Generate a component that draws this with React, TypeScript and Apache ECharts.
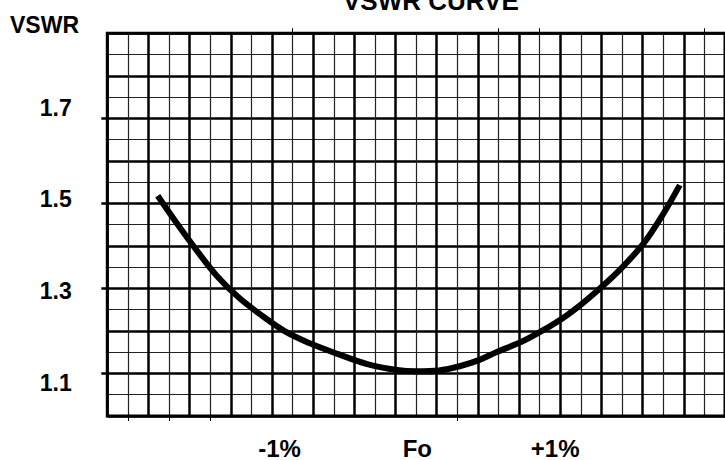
import React, { useEffect, useRef } from "react";
import * as echarts from "echarts";

// Frequency offset from Fo, in percent
const freqOffset = [
  -1.884, -1.743, -1.6, -1.456, -1.298, -1.14, -0.96, -0.78, -0.579, -0.363,
  -0.148, -0.002, 0.156, 0.307, 0.451, 0.573, 0.76, 0.904, 1.055, 1.199, 1.343,
  1.494, 1.645, 1.775, 1.905,
];
// VSWR values
const vswr = [
  1.518, 1.452, 1.389, 1.33, 1.279, 1.239, 1.199, 1.171, 1.146, 1.122, 1.108,
  1.105, 1.107, 1.117, 1.132, 1.15, 1.175, 1.2, 1.23, 1.265, 1.305, 1.352,
  1.407, 1.47, 1.543,
];

const xTickValues = [-1, 0, 1];
const xTickLabels = ["-1%", "Fo", "+1%"];
const yTickValues = [1.1, 1.3, 1.5, 1.7];
const yTickLabels = ["1.1", "1.3", "1.5", "1.7"];
// small stray tick marks on the chart frame (in grid major-cell units)
const bottomFrameTicks = [0.5, 1.5, 2.5, 8.5];
const topFrameTicks = [4.5, 9.5, 10.5, 14.5];

const FONT = "'Liberation Sans', Arial, Helvetica, sans-serif";

export default function App() {
  const ref = useRef<HTMLDivElement>(null);

  useEffect(() => {
    if (!ref.current) return;
    const chart = echarts.init(ref.current, null, { renderer: "svg" });
    const data = freqOffset.map((x, i) => [x, vswr[i]]);
    const tickOnlyX = (position: string, values: number[]) => ({
      type: "value",
      position,
      min: 0,
      max: 15,
      axisLine: { show: false },
      axisLabel: { show: false },
      splitLine: { show: false },
      minorSplitLine: { show: false },
      axisTick: {
        show: true,
        customValues: values,
        length: 5,
        lineStyle: { color: "#000", width: 1 },
      },
    });
    chart.setOption({
      animation: false,
      backgroundColor: "#ffffff",
      title: [
        {
          text: "VSWR CURVE",
          left: 343,
          top: -12,
          padding: 0,
          textStyle: { fontFamily: FONT, fontSize: 26, fontWeight: "bold", color: "#000" },
        },
        {
          text: "VSWR",
          left: 10,
          top: 13,
          padding: 0,
          textStyle: { fontFamily: FONT, fontSize: 23, fontWeight: "bold", color: "#000" },
        },
      ],
      grid: {
        left: 107.3,
        top: 33.3,
        right: -6,
        bottom: 41.7,
        show: true,
        borderColor: "#000",
        borderWidth: 3,
        backgroundColor: "transparent",
        z: 3,
      },
      xAxis: [
        {
          type: "value",
          position: "bottom",
          min: 0,
          max: 15,
          interval: 1,
          axisLine: { show: false },
          axisLabel: { show: false },
          axisTick: { show: false },
          splitLine: { show: true, lineStyle: { color: "#000", width: 2.5 } },
          minorTick: { show: false, splitNumber: 2 },
          minorSplitLine: { show: true, lineStyle: { color: "#222", width: 1.2 } },
        },
        {
          type: "value",
          position: "bottom",
          min: -2.25,
          max: 2.233,
          axisLine: { show: false },
          axisTick: { show: false },
          splitLine: { show: false },
          axisLabel: {
            show: true,
            customValues: xTickValues,
            formatter: (v: number) => {
              const i = xTickValues.findIndex((t) => Math.abs(t - v) < 1e-6);
              return i >= 0 ? xTickLabels[i] : "";
            },
            margin: 20,
            fontFamily: FONT,
            fontSize: 24,
            fontWeight: "bold",
            color: "#000",
          },
        },
        tickOnlyX("bottom", bottomFrameTicks),
        tickOnlyX("top", topFrameTicks),
      ],
      yAxis: [
        {
          type: "value",
          position: "left",
          min: 1.0,
          max: 1.9,
          interval: 0.1,
          axisLine: { show: false },
          axisLabel: { show: false },
          axisTick: { show: false },
          splitLine: { show: true, lineStyle: { color: "#000", width: 2.5 } },
          minorTick: { show: false, splitNumber: 2 },
          minorSplitLine: { show: true, lineStyle: { color: "#222", width: 1.2 } },
        },
        {
          type: "value",
          position: "left",
          min: 1.0271,
          max: 1.8628,
          axisLine: { show: false },
          axisTick: { show: false },
          splitLine: { show: false },
          axisLabel: {
            show: true,
            customValues: yTickValues,
            formatter: (v: number) => {
              const i = yTickValues.findIndex((t) => Math.abs(t - v) < 1e-6);
              return i >= 0 ? yTickLabels[i] : "";
            },
            margin: 35.6,
            fontFamily: FONT,
            fontSize: 23,
            fontWeight: "bold",
            color: "#000",
          },
        },
        {
          type: "value",
          position: "left",
          min: 1.0,
          max: 1.9,
          axisLine: { show: false },
          axisLabel: { show: false },
          splitLine: { show: false },
          axisTick: {
            show: true,
            customValues: yTickValues,
            length: 6,
            lineStyle: { color: "#000", width: 2.5 },
          },
        },
      ],
      series: [
        {
          type: "line",
          xAxisIndex: 1,
          yAxisIndex: 0,
          data,
          smooth: 0.35,
          symbol: "none",
          lineStyle: { color: "#000", width: 6 },
          z: 10,
        },
      ],
    });
    return () => chart.dispose();
  }, []);

  return (
    <div
      ref={ref}
      style={{ position: "absolute", left: 0, top: 0, width: 725, height: 460, background: "#fff" }}
    />
  );
}
